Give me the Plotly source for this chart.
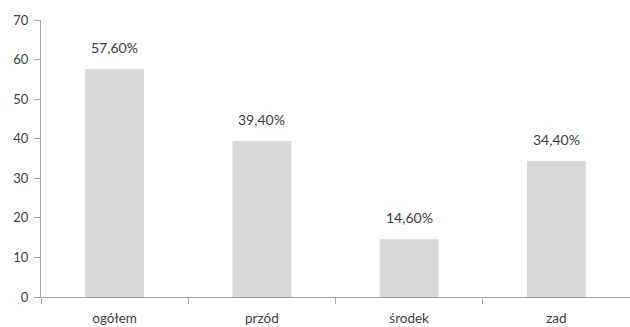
import plotly.graph_objects as go

categories = ["ogółem", "przód", "środek", "zad"]
values = [57.6, 39.4, 14.6, 34.4]
labels = ["57,60%", "39,40%", "14,60%", "34,40%"]

fig = go.Figure(go.Bar(
    x=categories, y=values,
    marker=dict(color="#d9d9d9", line=dict(width=0)),
))
for c, v, t in zip(categories, values, labels):
    fig.add_annotation(x=c, y=v, text=t, showarrow=False, yanchor="bottom",
                       yshift=11, font=dict(size=14, color="#404040", family="Lato"))
fig.update_layout(
    width=630, height=327, margin=dict(l=41, r=0, t=20, b=30),
    plot_bgcolor="white", paper_bgcolor="white", bargap=0.6,
    showlegend=False, font=dict(family="Lato", size=13, color="#404040"),
)
fig.update_xaxes(type="category", range=[-0.5, 3.5], tickson="boundaries",
                 ticks="outside", ticklen=6, tickcolor="#a6a6a6",
                 showline=True, linecolor="#a6a6a6", linewidth=1,
                 showgrid=False, ticklabelstandoff=9,
                 tickfont=dict(size=13.5, color="#404040"))
fig.update_yaxes(range=[0, 70], dtick=10, ticks="outside", ticklen=6,
                 tickcolor="#a6a6a6", showline=True, linecolor="#a6a6a6",
                 linewidth=1, showgrid=False, zeroline=False,
                 ticklabelstandoff=3,
                 tickfont=dict(size=13, color="#404040"))
fig.write_html("out.html")
